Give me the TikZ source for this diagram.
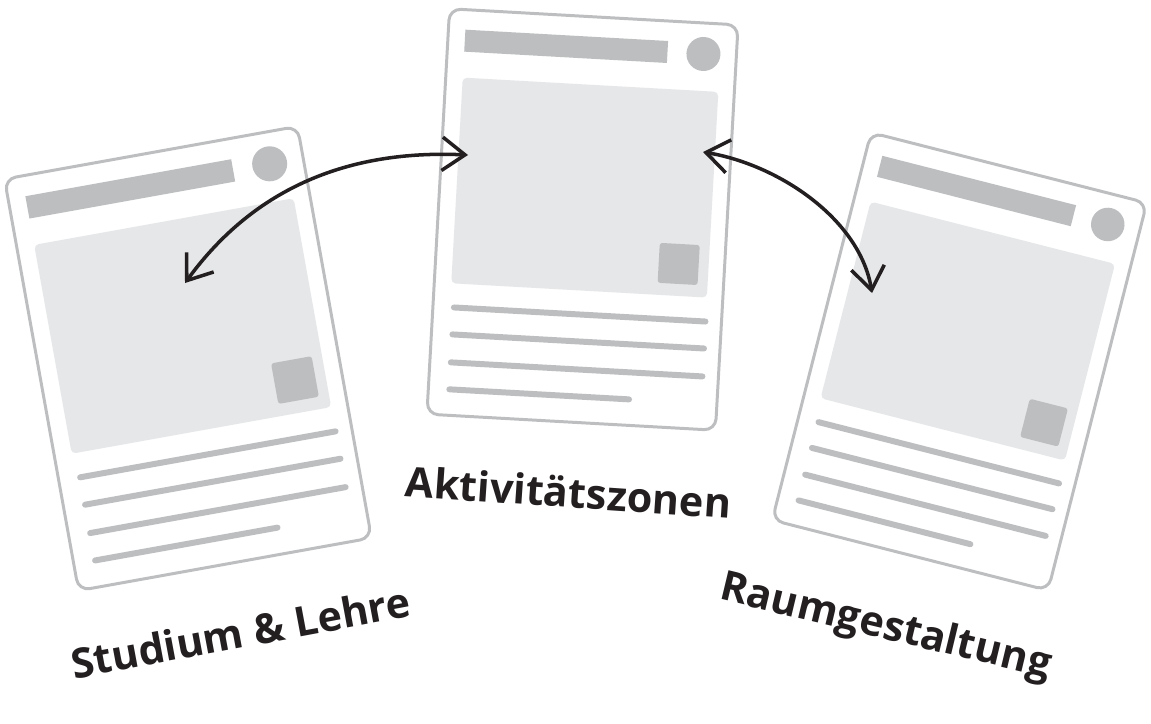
\documentclass[tikz,border=0pt]{standalone}
\usepackage{fontspec}
\setmainfont{Open Sans}
\usetikzlibrary{arrows.meta}
\definecolor{cardgray}{HTML}{BCBEC0}
\definecolor{imggray}{HTML}{E6E7E8}
\definecolor{inkblack}{HTML}{231F20}

\begin{document}
\begin{tikzpicture}[x=0.02cm,y=-0.02cm,
    cardline/.style={draw=cardgray,line width=1.7pt,rounded corners=6.5pt,fill=white},
    blockfill/.style={fill=cardgray,rounded corners=1.5pt},
    textline/.style={draw=cardgray,line width=3.4pt,line cap=round},
    swap/.style={draw=inkblack,line width=2pt,
      {Straight Barb[length=13pt,width=19pt]}-{Straight Barb[length=13pt,width=19pt]}},
    zone/.style={font=\bfseries\fontsize{23.5}{27}\selectfont,text=inkblack,inner sep=0pt,anchor=base}]

  \useasboundingbox (0,0) rectangle (1151,723);

  \foreach \cx/\cy/\ang/\sc in {188/358.5/10.2/1.03,582.5/219.5/-3.2/1,959.5/361.5/-14.3/0.985}{
    \begin{scope}[shift={(\cx,\cy)},rotate=\ang,scale=\sc]
      \draw[cardline] (-144.5,-203) rectangle (144.5,203);
      \fill[cardgray] (-127.5,-183) rectangle (75.5,-161);
      \fill[cardgray] (111.5,-172) circle [radius=17];
      \fill[imggray,rounded corners=2.5pt] (-127.5,-135) rectangle (128.5,71);
      \fill[blockfill] (78.5,19) rectangle (118.5,59);
      \foreach \ly in {95,122,150}{
        \draw[textline] (-123.5,\ly)--(128.5,\ly);
      }
      \draw[textline] (-123.5,177)--(56.5,177);
    \end{scope}
  }

  \coordinate (left-in) at (185,283);
  \coordinate (mid-w) at (468,155);
  \coordinate (mid-e) at (703,152);
  \coordinate (right-in) at (872,293);

  \draw[swap] (left-in) .. controls (260,180) and (360,150) .. (mid-w);
  \draw[swap] (mid-e) .. controls (780,165) and (860,220) .. (right-in);

  \node[zone,rotate=10.6] (studium) at (243.5,647.5) {Studium \& Lehre};
  \node[zone,rotate=-3.9] (aktiv) at (567.5,507.5) {Aktivitätszonen};
  \node[zone,rotate=-13.5] (raum) at (883,638.5) {Raumgestaltung};
\end{tikzpicture}
\end{document}
